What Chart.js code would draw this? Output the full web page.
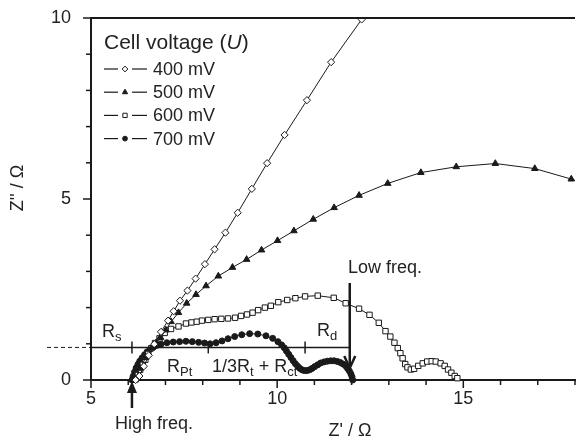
<!DOCTYPE html>
<html>
<head>
<meta charset="utf-8">
<script src="https://cdn.jsdelivr.net/npm/chart.js@4/dist/chart.umd.min.js"></script>
<style>
  html, body { margin: 0; padding: 0; background: #fff; }
  #wrap { width: 580px; height: 441px; position: relative; }
</style>
</head>
<body>
<div id="wrap"><canvas id="chart"></canvas></div>
<script>
const FONT = '"Liberation Sans", Arial, sans-serif';
const INK = '#1a1a1a';

// tick labels shown on the axes
const xLabels = [5, 10, 15];
const yLabels = [0, 5, 10];

// legend
const legendTitle = 'Cell voltage (';
const seriesNames = ['400 mV', '500 mV', '600 mV', '700 mV'];

// Nyquist data, Z' (x) and -Z'' (y) in ohm
const v400x = [6.20, 6.30, 6.42, 6.55, 6.70, 6.88, 7.07, 7.22, 7.39, 7.59, 7.81, 8.06, 8.32, 8.61, 8.94, 9.32, 9.73, 10.20, 10.80, 11.45, 12.27, 13.10];
const v400y = [0.00, 0.11, 0.38, 0.68, 0.99, 1.33, 1.64, 1.90, 2.19, 2.47, 2.80, 3.20, 3.61, 4.07, 4.62, 5.28, 5.99, 6.77, 7.73, 8.78, 9.96, 11.16];

const v500x = [6.18, 6.32, 6.47, 6.62, 6.75, 6.87, 7.01, 7.15, 7.35, 7.57, 7.82, 8.09, 8.42, 8.80, 9.18, 9.58, 10.01, 10.45, 10.97, 11.53, 12.20, 12.97, 13.86, 14.81, 15.86, 16.92, 17.90, 18.90];
const v500y = [0.03, 0.32, 0.62, 0.88, 1.03, 1.17, 1.38, 1.61, 1.86, 2.12, 2.36, 2.60, 2.87, 3.11, 3.33, 3.59, 3.85, 4.12, 4.44, 4.76, 5.10, 5.43, 5.73, 5.89, 5.98, 5.84, 5.55, 5.15];

const v600x = [6.20, 6.26, 6.32, 6.39, 6.46, 6.54, 6.62, 6.72, 6.84, 6.98, 7.15, 7.35, 7.55, 7.70, 7.84, 7.98, 8.15, 8.32, 8.50, 8.68, 8.87, 9.03, 9.19, 9.34, 9.49, 9.67, 9.83, 10.03, 10.27, 10.49, 10.75, 11.09, 11.52, 11.84, 12.20, 12.48, 12.73, 12.91, 13.04, 13.15, 13.24, 13.31, 13.37, 13.44, 13.50, 13.59, 13.68, 13.79, 13.91, 14.03, 14.15, 14.26, 14.39, 14.50, 14.59, 14.68, 14.77, 14.84];
const v600y = [0.02, 0.14, 0.28, 0.42, 0.56, 0.72, 0.88, 1.02, 1.15, 1.30, 1.41, 1.48, 1.56, 1.59, 1.61, 1.64, 1.66, 1.68, 1.69, 1.70, 1.72, 1.77, 1.81, 1.86, 1.93, 2.00, 2.05, 2.15, 2.21, 2.26, 2.31, 2.33, 2.27, 2.12, 1.97, 1.80, 1.58, 1.35, 1.20, 1.03, 0.88, 0.74, 0.60, 0.44, 0.35, 0.29, 0.31, 0.39, 0.46, 0.51, 0.52, 0.51, 0.46, 0.39, 0.29, 0.20, 0.11, 0.05];

const v700x = [6.10, 6.13, 6.17, 6.21, 6.26, 6.31, 6.37, 6.44, 6.51, 6.59, 6.68, 6.78, 6.88, 7.04, 7.21, 7.38, 7.55, 7.72, 7.89, 8.05, 8.20, 8.36, 8.52, 8.68, 8.86, 9.05, 9.26, 9.48, 9.70, 9.88, 10.02, 10.12, 10.19, 10.25, 10.31, 10.37, 10.43, 10.49, 10.55, 10.61, 10.67, 10.73, 10.80, 10.87, 10.94, 11.01, 11.09, 11.17, 11.26, 11.35, 11.44, 11.53, 11.62, 11.70, 11.77, 11.84, 11.89, 11.94, 11.98, 12.01, 12.03];
const v700y = [0.00, 0.10, 0.22, 0.33, 0.43, 0.52, 0.61, 0.70, 0.78, 0.85, 0.91, 0.96, 0.99, 1.03, 1.05, 1.06, 1.07, 1.06, 1.04, 1.02, 1.00, 1.03, 1.08, 1.14, 1.20, 1.25, 1.28, 1.27, 1.22, 1.15, 1.06, 0.97, 0.89, 0.80, 0.71, 0.62, 0.53, 0.45, 0.38, 0.32, 0.28, 0.26, 0.26, 0.28, 0.32, 0.37, 0.42, 0.47, 0.50, 0.52, 0.53, 0.53, 0.51, 0.48, 0.44, 0.39, 0.32, 0.25, 0.17, 0.09, 0.00];

// annotation positions (axis units)
const rLineY = 0.9;
const rLineEnd = 11.95;
const rMarks = [6.1, 8.15, 10.75];
const highFreqX = 6.1;
const lowFreqX = 11.95;

function pts(xs, ys) { return xs.map((v, i) => ({ x: v, y: ys[i] })); }

const styles = [
  { pointStyle: 'rectRot', radius: 3.6, fill: '#fff' },
  { pointStyle: 'triangle', radius: 3.8, fill: INK },
  { pointStyle: 'rect', radius: 3.8, fill: '#fff' },
  { pointStyle: 'circle', radius: 3.0, fill: INK }
];
const seriesData = [pts(v400x, v400y), pts(v500x, v500y), pts(v600x, v600y), pts(v700x, v700y)];

const datasets = seriesData.map((d, i) => ({
  label: seriesNames[i],
  data: d,
  showLine: true,
  borderColor: INK,
  borderWidth: 1,
  pointStyle: styles[i].pointStyle,
  pointRadius: styles[i].radius,
  pointBackgroundColor: styles[i].fill,
  pointBorderColor: INK,
  pointBorderWidth: 1,
  clip: { left: 6, right: 0, top: 0, bottom: 6 }
}));

function marker(ctx, style, x, y, r, fill) {
  ctx.beginPath();
  if (style === 'rectRot') {
    ctx.moveTo(x, y - r); ctx.lineTo(x + r, y); ctx.lineTo(x, y + r); ctx.lineTo(x - r, y); ctx.closePath();
  } else if (style === 'triangle') {
    ctx.moveTo(x, y - r); ctx.lineTo(x + r * 0.87, y + r * 0.5); ctx.lineTo(x - r * 0.87, y + r * 0.5); ctx.closePath();
  } else if (style === 'rect') {
    const s = r * 0.71; ctx.rect(x - s, y - s, 2 * s, 2 * s);
  } else {
    ctx.arc(x, y, r, 0, Math.PI * 2);
  }
  ctx.fillStyle = fill; ctx.fill();
  ctx.lineWidth = 1; ctx.strokeStyle = INK; ctx.stroke();
}

function seg(ctx, x1, y1, x2, y2) {
  ctx.beginPath(); ctx.moveTo(x1, y1); ctx.lineTo(x2, y2); ctx.stroke();
}

// text with subscript pieces: [[text, isSub], ...]
function rich(ctx, x, y, parts) {
  let cx = x;
  parts.forEach(([t, sub]) => {
    ctx.font = (sub ? '13px ' : '18px ') + FONT;
    ctx.fillText(t, cx, sub ? y + 5 : y);
    cx += ctx.measureText(t).width;
  });
}

const decor = {
  id: 'decor',
  afterDraw(chart) {
    const { ctx, chartArea: a, scales: { x, y } } = chart;
    ctx.save();
    ctx.strokeStyle = INK;
    ctx.fillStyle = INK;

    // top frame line
    ctx.lineWidth = 2;
    seg(ctx, a.left - 1, a.top, a.right, a.top);

    // tick marks
    ctx.lineWidth = 1.5;
    x.ticks.forEach(t => {
      const px = x.getPixelForValue(t.value);
      seg(ctx, px, a.bottom, px, a.bottom + (t.value % 5 === 0 ? 8 : 5));
    });
    y.ticks.forEach(t => {
      const py = y.getPixelForValue(t.value);
      seg(ctx, a.left, py, a.left - (t.value % 5 === 0 ? 8 : 5), py);
    });

    // resistance line with marks
    const ry = y.getPixelForValue(rLineY);
    ctx.lineWidth = 1.5;
    seg(ctx, a.left, ry, x.getPixelForValue(rLineEnd), ry);
    rMarks.forEach(m => { const px = x.getPixelForValue(m); seg(ctx, px, ry - 6, px, ry + 6); });
    ctx.lineWidth = 1;
    ctx.setLineDash([4, 3]);
    seg(ctx, a.left - 44, ry, a.left, ry);
    ctx.setLineDash([]);

    // low freq arrow (pointing down)
    const lx = x.getPixelForValue(lowFreqX);
    const lTip = y.getPixelForValue(0.33);
    ctx.lineWidth = 2.5;
    seg(ctx, lx, y.getPixelForValue(2.68), lx, lTip);
    ctx.beginPath();
    ctx.moveTo(lx - 5.5, lTip - 12); ctx.lineTo(lx, lTip); ctx.lineTo(lx + 5.5, lTip - 12);
    ctx.stroke();

    // high freq arrow (pointing up)
    const hx = x.getPixelForValue(highFreqX);
    const hTip = a.bottom + 1;
    seg(ctx, hx, hTip + 27, hx, hTip + 6);
    ctx.beginPath();
    ctx.moveTo(hx, hTip); ctx.lineTo(hx - 5, hTip + 12); ctx.lineTo(hx + 5, hTip + 12); ctx.closePath();
    ctx.fill();

    // labels
    ctx.fillStyle = '#222';
    ctx.textBaseline = 'middle';
    ctx.textAlign = 'left';
    rich(ctx, 102, 332, [['R', false], ['s', true]]);
    rich(ctx, 167, 367, [['R', false], ['Pt', true]]);
    rich(ctx, 212, 367, [['1/3R', false], ['t', true], [' + R', false], ['ct', true]]);
    rich(ctx, 317, 331, [['R', false], ['d', true]]);
    ctx.font = '18px ' + FONT;
    ctx.fillText('Low freq.', 348, 268);
    ctx.fillText('High freq.', 115, 424);

    // axis titles
    ctx.textAlign = 'center';
    ctx.fillText("Z' / \u03A9", 350, 431);
    ctx.save();
    ctx.translate(18, 188);
    ctx.rotate(-Math.PI / 2);
    ctx.fillText("Z'' / \u03A9", 0, 0);
    ctx.restore();

    // legend
    ctx.textAlign = 'left';
    ctx.font = '21px ' + FONT;
    ctx.fillText(legendTitle, 104, 43);
    let tx = 104 + ctx.measureText(legendTitle).width;
    ctx.font = 'italic 21px ' + FONT;
    ctx.fillText('U', tx, 43);
    tx += ctx.measureText('U').width;
    ctx.font = '21px ' + FONT;
    ctx.fillText(')', tx, 43);

    ctx.font = '18px ' + FONT;
    seriesNames.forEach((name, i) => {
      const ly = 69 + i * 23.2;
      ctx.strokeStyle = INK;
      ctx.lineWidth = 1.2;
      seg(ctx, 104, ly, 118, ly);
      seg(ctx, 132, ly, 147, ly);
      marker(ctx, styles[i].pointStyle, 125, ly, styles[i].radius * 0.8, styles[i].fill);
      ctx.fillStyle = '#222';
      ctx.fillText(name, 153, ly + 1);
    });
    ctx.restore();
  }
};

new Chart(document.getElementById('chart'), {
  type: 'scatter',
  data: { datasets },
  plugins: [decor],
  options: {
    responsive: true,
    maintainAspectRatio: false,
    animation: false,
    layout: { padding: { top: 18, right: 0, left: 0, bottom: 0 } },
    plugins: { legend: { display: false }, tooltip: { enabled: false } },
    scales: {
      x: {
        type: 'linear',
        min: 5, max: 18,
        afterFit(s) { s.height = 61; },
        border: { display: true, color: INK, width: 2 },
        grid: { display: true, drawOnChartArea: false, drawTicks: true, tickLength: 8, color: 'transparent', tickColor: 'transparent' },
        ticks: {
          stepSize: 1, autoSkip: false, maxRotation: 0, padding: 0,
          color: '#222', font: { family: FONT, size: 18 },
          callback: v => xLabels.includes(v) ? String(v) : ''
        }
      },
      y: {
        type: 'linear',
        min: 0, max: 10,
        afterFit(s) { s.width = 91; },
        border: { display: true, color: INK, width: 2 },
        grid: { display: true, drawOnChartArea: false, drawTicks: true, tickLength: 20, color: 'transparent', tickColor: 'transparent' },
        ticks: {
          stepSize: 1, autoSkip: false, padding: 0,
          color: '#222', font: { family: FONT, size: 18 },
          callback: v => yLabels.includes(v) ? String(v) : ''
        }
      }
    }
  }
});
</script>
</body>
</html>
